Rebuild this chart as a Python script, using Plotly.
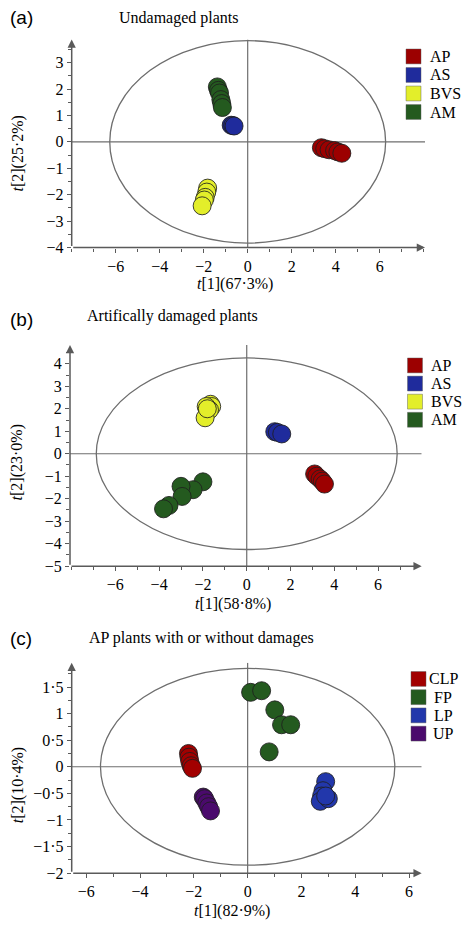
import plotly.graph_objects as go

# ---------------- data ----------------
# Panel (a) Undamaged plants: t[1], t[2] scores
a_groups = ["AP", "AS", "BVS", "AM"]
a_ap_t1 = [3.35, 3.50, 3.70, 3.95, 4.10, 4.28]
a_ap_t2 = [-0.22, -0.26, -0.30, -0.33, -0.38, -0.43]
a_as_t1 = [-0.75, -0.68, -0.62]
a_as_t2 = [0.63, 0.62, 0.60]
a_bvs_t1 = [-1.82, -1.86, -1.93, -1.97, -2.07]
a_bvs_t2 = [-1.75, -1.90, -2.10, -2.20, -2.42]
a_am_t1 = [-1.38, -1.33, -1.28, -1.22, -1.18, -1.15]
a_am_t2 = [2.08, 1.95, 1.85, 1.60, 1.45, 1.30]

# Panel (b) Artificially damaged plants
b_groups = ["AP", "AS", "BVS", "AM"]
b_ap_t1 = [3.10, 3.20, 3.35, 3.45, 3.55]
b_ap_t2 = [-0.90, -1.00, -1.12, -1.22, -1.35]
b_as_t1 = [1.28, 1.40, 1.60]
b_as_t2 = [0.98, 0.95, 0.88]
b_bvs_t1 = [-1.65, -1.60, -1.70, -1.85, -1.90, -1.80]
b_bvs_t2 = [2.20, 2.10, 1.95, 2.10, 1.60, 2.00]
b_am_t1 = [-2.00, -2.45, -3.00, -2.95, -3.55, -3.80]
b_am_t2 = [-1.25, -1.60, -1.45, -1.90, -2.30, -2.45]

# Panel (c) AP plants with or without damages
c_groups = ["CLP", "FP", "LP", "UP"]
c_clp_t1 = [-2.20, -2.18, -2.15, -2.10, -2.05]
c_clp_t2 = [0.25, 0.18, 0.10, 0.02, -0.03]
c_fp_t1 = [0.11, 0.52, 1.01, 1.26, 1.60, 0.80]
c_fp_t2 = [1.40, 1.43, 1.07, 0.79, 0.79, 0.28]
c_lp_t1 = [2.90, 2.80, 2.75, 2.70, 3.00, 2.90]
c_lp_t2 = [-0.28, -0.45, -0.55, -0.65, -0.60, -0.55]
c_up_t1 = [-1.65, -1.60, -1.52, -1.45, -1.38]
c_up_t2 = [-0.57, -0.60, -0.68, -0.75, -0.83]

# Hotelling ellipse half-axes (t1, t2)
a_ellipse = [6.27, 3.83]
b_ellipse = [6.87, 4.26]
c_ellipse = [5.47, 1.85]

# Tick labels
a_xticks = [-6, -4, -2, 0, 2, 4, 6]
a_yticks = [-4, -3, -2, -1, 0, 1, 2, 3]
b_xticks = [-6, -4, -2, 0, 2, 4, 6]
b_yticks = [-5, -4, -3, -2, -1, 0, 1, 2, 3, 4]
c_xticks = [-6, -4, -2, 0, 2, 4, 6]
c_yticks = [-2, -1.5, -1, -0.5, 0, 0.5, 1, 1.5]

# Texts
titles = ["Undamaged plants", "Artifically damaged plants", "AP plants with or without damages"]
panel_labels = ["(a)", "(b)", "(c)"]
x_titles = ["<i>t</i>[1](67·3%)", "<i>t</i>[1](58·8%)", "<i>t</i>[1](82·9%)"]
y_titles = ["<i>t</i>[2](25·2%)", "<i>t</i>[2](23·0%)", "<i>t</i>[2](10·4%)"]

# ---------------- style ----------------
W, H = 462, 927
SERIF = "Liberation Serif"
SANS = "Liberation Sans"
AX = "#5a5a5a"
COL = {
    "AP": "#9c0000", "AS": "#1f2b9c", "BVS": "#e3ee2a", "AM": "#245a1f",
    "CLP": "#a20000", "FP": "#245a1f", "LP": "#2237ab", "UP": "#4a0a6c",
}

def py(px):
    return 1 - px / H

def fmt(v):
    s = ("%g" % abs(v)).replace(".", "·")
    return ("−" + s) if v < 0 else s

panels = [
    dict(groups=a_groups, data=[(a_ap_t1, a_ap_t2), (a_as_t1, a_as_t2), (a_bvs_t1, a_bvs_t2), (a_am_t1, a_am_t2)],
         ell=a_ellipse, xt=a_xticks, yt=a_yticks, xr=[-8, 8.06], yr=[-4, 3.87],
         xdom=[71.7 / W, 425 / W], ydom=[py(250), py(40)], xminor=1, yminor=0.5,
         label_y=18, title_x=117, title_y=18, xt_pos=(235, 287), yt_pos=(18, 155),
         leg=dict(sq=406, tx=428, anchor="left", y0=57, dy=18.7)),
    dict(groups=b_groups, data=[(b_ap_t1, b_ap_t2), (b_as_t1, b_as_t2), (b_bvs_t1, b_bvs_t2), (b_am_t1, b_am_t2)],
         ell=b_ellipse, xt=b_xticks, yt=b_yticks, xr=[-8.07, 7.99], yr=[-5, 4.84],
         xdom=[70 / W, 421.7 / W], ydom=[py(571.7), py(348.3)], xminor=1, yminor=0.5,
         label_y=323, title_x=85, title_y=319, xt_pos=(233, 610), yt_pos=(17, 467),
         leg=dict(sq=407.5, tx=428.5, anchor="left", y0=369, dy=18.3)),
    dict(groups=c_groups, data=[(c_clp_t1, c_clp_t2), (c_fp_t1, c_fp_t2), (c_lp_t1, c_lp_t2), (c_up_t1, c_up_t2)],
         ell=c_ellipse, xt=c_xticks, yt=c_yticks, xr=[-6.54, 6.47], yr=[-2, 1.955],
         xdom=[71.7 / W, 421.7 / W], ydom=[py(881.7), py(669.3)], xminor=1, yminor=0.25,
         label_y=645, title_x=87, title_y=644, xt_pos=(232, 920), yt_pos=(18, 793),
         leg=dict(sq=411, tx=443, anchor="center", y0=685.6, dy=18.4)),
]

fig = go.Figure()
layout = dict(width=W, height=H, margin=dict(l=0, r=0, t=0, b=0), showlegend=False,
              paper_bgcolor="white", plot_bgcolor="white",
              font=dict(family=SERIF, size=16, color="black"))
shapes, annotations = [], []
SQ = 15

for i, p in enumerate(panels):
    n = "" if i == 0 else str(i + 1)
    xa, ya = "x" + n, "y" + n
    for g, (t1, t2) in zip(p["groups"], p["data"]):
        fig.add_trace(go.Scatter(
            x=t1, y=t2, mode="markers", xaxis=xa, yaxis=ya, showlegend=False,
            marker=dict(size=18, color=COL[g], line=dict(color="rgba(30,30,30,0.85)", width=1)),
            name=g, hoverinfo="x+y+name"))
    layout["xaxis" + n] = dict(
        domain=p["xdom"], range=p["xr"], anchor=ya, showgrid=False, zeroline=False, showline=False,
        tickvals=p["xt"], ticktext=[fmt(v) for v in p["xt"]], ticks="outside", ticklen=4,
        tickwidth=1, tickcolor=AX, tickfont=dict(family=SERIF, size=16, color="black"),
        minor=dict(dtick=p["xminor"], tick0=0, ticks="outside", ticklen=3, tickcolor=AX, showgrid=False))
    layout["yaxis" + n] = dict(
        domain=p["ydom"], range=p["yr"], anchor=xa, showgrid=False, zeroline=False, showline=False,
        tickvals=p["yt"], ticktext=[fmt(v) for v in p["yt"]], ticks="outside", ticklen=4,
        tickwidth=1, tickcolor=AX, tickfont=dict(family=SERIF, size=16, color="black"),
        minor=dict(dtick=p["yminor"], tick0=0, ticks="outside", ticklen=3, tickcolor=AX, showgrid=False))
    rx, ry = p["ell"]
    x0, x1 = p["xr"]
    y0, y1 = p["yr"]
    shapes += [
        dict(type="circle", xref=xa, yref=ya, x0=-rx, x1=rx, y0=-ry, y1=ry,
             line=dict(color="#6e6e6e", width=1.3), layer="below"),
        dict(type="line", xref=xa, yref=ya, x0=x0, x1=x1, y0=0, y1=0,
             line=dict(color="#6e6e6e", width=1.2), layer="below"),
        dict(type="line", xref=xa, yref=ya, x0=0, x1=0, y0=y0, y1=y1,
             line=dict(color="#6e6e6e", width=1.2), layer="below"),
    ]
    # axis lines with arrowheads
    annotations += [
        dict(xref=xa, yref=ya, axref=xa, ayref=ya, x=x1, y=y0, ax=x0, ay=y0, text="",
             showarrow=True, arrowhead=2, arrowsize=1.1, arrowwidth=1.5, arrowcolor=AX, standoff=0),
        dict(xref=xa, yref=ya, axref=xa, ayref=ya, x=x0, y=y1, ax=x0, ay=y0, text="",
             showarrow=True, arrowhead=2, arrowsize=1.1, arrowwidth=1.5, arrowcolor=AX, standoff=0),
    ]
    annotations += [
        dict(xref="paper", yref="paper", x=8 / W, y=py(p["label_y"]), xanchor="left", yanchor="middle",
             text=panel_labels[i], showarrow=False, font=dict(family=SANS, size=19, color="black")),
        dict(xref="paper", yref="paper", x=p["title_x"] / W, y=py(p["title_y"]), xanchor="left",
             yanchor="middle", text=titles[i], showarrow=False,
             font=dict(family=SERIF, size=16, color="black")),
        dict(xref="paper", yref="paper", x=p["xt_pos"][0] / W, y=py(p["xt_pos"][1]), xanchor="center",
             yanchor="middle", text=x_titles[i], showarrow=False,
             font=dict(family=SERIF, size=16, color="black")),
        dict(xref="paper", yref="paper", x=p["yt_pos"][0] / W, y=py(p["yt_pos"][1]), xanchor="center",
             yanchor="middle", text=y_titles[i], showarrow=False, textangle=-90,
             font=dict(family=SERIF, size=16, color="black")),
    ]
    # legend (colour key) for this panel
    lg = p["leg"]
    for k, g in enumerate(p["groups"]):
        cy = lg["y0"] + k * lg["dy"]
        shapes.append(dict(type="rect", xref="paper", yref="paper",
                           x0=lg["sq"] / W, x1=(lg["sq"] + SQ) / W,
                           y0=py(cy + SQ / 2), y1=py(cy - SQ / 2),
                           fillcolor=COL[g], line=dict(color="rgba(90,90,90,0.45)", width=1)))
        annotations.append(dict(xref="paper", yref="paper", x=lg["tx"] / W, y=py(cy),
                                xanchor=lg["anchor"], yanchor="middle", text=g, showarrow=False,
                                font=dict(family=SERIF, size=16, color="black")))

layout["shapes"] = shapes
layout["annotations"] = annotations
fig.update_layout(**layout)
fig.write_html("out.html", config={"displayModeBar": False},
               post_script="document.body.style.margin='0';document.body.style.overflow='hidden';")
